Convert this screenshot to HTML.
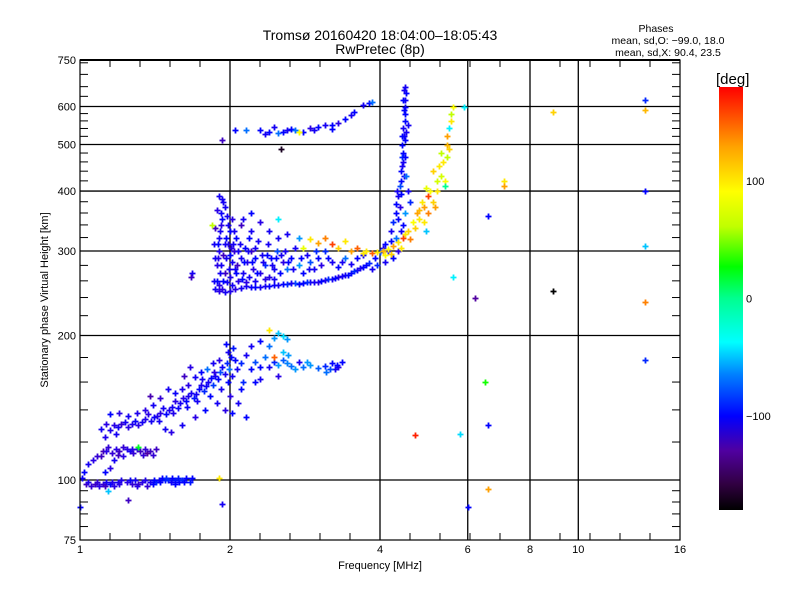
<!DOCTYPE html>
<html><head><meta charset="utf-8">
<style>
body{margin:0;background:#fff;}
svg{display:block;font-family:"Liberation Sans",sans-serif;}
</style></head>
<body>
<svg id="chart" width="800" height="600" viewBox="0 0 800 600">
<defs>
<linearGradient id="cbar" x1="0" y1="0" x2="0" y2="1">
<stop offset="0" stop-color="#ff0000"/><stop offset="0.139" stop-color="#ffa000"/><stop offset="0.247" stop-color="#ffff00"/>
<stop offset="0.33" stop-color="#c0ff00"/><stop offset="0.425" stop-color="#00ff00"/><stop offset="0.5" stop-color="#00ff90"/>
<stop offset="0.603" stop-color="#00ffff"/><stop offset="0.68" stop-color="#0080ff"/><stop offset="0.778" stop-color="#0000ff"/>
<stop offset="0.86" stop-color="#5000a0"/><stop offset="0.94" stop-color="#300040"/><stop offset="1" stop-color="#000000"/>
</linearGradient>
</defs>
<text x="380" y="40" font-size="14" text-anchor="middle">Tromsø 20160420 18:04:00–18:05:43</text>
<text x="380" y="54" font-size="14" text-anchor="middle">RwPretec (8p)</text>
<g font-size="10.5" text-anchor="middle">
<text x="656" y="32">Phases</text>
<text x="668" y="44">mean, sd,O: −99.0, 18.0</text>
<text x="668" y="56">mean, sd,X:  90.4, 23.5</text>
</g>
<g id="grid"></g>
<g id="ticks"></g>
<g id="points"></g>
<rect x="80" y="60" width="600" height="480" fill="none" stroke="#000" stroke-width="1.2"/>
<line x1="80" y1="60" x2="680" y2="60" stroke="#000" stroke-width="2"/>
<text x="380" y="569" font-size="11" text-anchor="middle">Frequency [MHz]</text>
<text transform="translate(48,300) rotate(-90)" font-size="11" text-anchor="middle">Stationary phase Virtual Height [km]</text>
<rect x="719" y="87" width="24" height="423" fill="url(#cbar)"/>
<text x="716" y="84" font-size="15">[deg]</text>
<g id="cbticks" font-size="11"></g>
</svg>
<script>
const xTicks=[1,2,4,6,8,10,16];
const yTicks=[75,100,200,300,400,500,600,750];
const xGrid=[2,4,6,8,10];
const yGrid=[100,200,300,400,500,600];
const yMinor=[80,85,90,95,120,140,160,180,220,240,260,280,320,340,360,380,420,440,460,480,520,540,560,580,630,660,700,740];
const cbTicks=[100,0,-100];
// [freq MHz, height km, phase deg]
const trace100=[[1.01,101,-105],[1.03,98,-130],[1.05,97,-125],[1.07,98,-130],[1.09,97,-120],[1.11,98,-125],[1.13,99,-110],[1.15,98,-100],[1.17,97,-120],[1.19,99,-110],[1.21,100,-115],[1.24,99,-120],[1.27,98,-125],[1.29,100,-110],[1.31,98,-130],[1.33,99,-120],[1.36,97,-125],[1.38,99,-110],[1.40,98,-100],[1.42,99,-90],[1.44,100,-105],[1.46,101,-100],[1.48,100,-95],[1.50,100,-90],[1.53,101,-100],[1.55,100,-95],[1.58,99,-100],[1.60,100,-90],[1.63,101,-100],[1.66,99,-95],[1.68,101,-100],[1.14,95,-50],[1.25,91,-130],[1.04,99,-115],[1.12,97,-130],[1.20,98,-120],[1.26,100,-105],[1.35,100,-115],[1.45,99,-100],[1.52,99,-105],[1.57,101,-95],[1.62,99,-100],[1.00,88,-100],[1.08,99,-125],[1.16,99,-115],[1.30,97,-120],[1.41,100,-100],[1.49,101,-90],[1.55,98,-100]];
const traceE1=[[1.04,108,-110],[1.06,110,-120],[1.08,112,-125],[1.10,112,-130],[1.11,115,-135],[1.13,115,-120],[1.16,114,-125],[1.18,116,-120],[1.20,115,-130],[1.22,117,-125],[1.24,116,-120],[1.26,115,-110],[1.28,114,-125],[1.30,116,-120],[1.32,115,-130],[1.34,113,-125],[1.36,114,-140],[1.38,115,-130],[1.40,113,-125],[1.42,116,-130],[1.22,112,-120],[1.17,110,-110],[1.15,106,-120],[1.12,104,-100],[1.02,104,-100],[1.31,117,20],[1.14,117,-125],[1.19,113,-130],[1.27,116,-120],[1.35,116,-125]];
const traceE2=[[1.10,128,-110],[1.13,131,-120],[1.15,127,-115],[1.17,130,-120],[1.19,129,-110],[1.21,131,-125],[1.23,132,-110],[1.25,129,-120],[1.27,131,-115],[1.29,133,-105],[1.31,130,-120],[1.33,132,-110],[1.35,134,-115],[1.37,137,-120],[1.39,133,-110],[1.41,135,-105],[1.43,136,-115],[1.45,138,-120],[1.47,141,-110],[1.49,137,-100],[1.51,140,-115],[1.53,142,-110],[1.55,146,-120],[1.57,141,-105],[1.59,145,-110],[1.61,148,-120],[1.63,146,-100],[1.65,150,-115],[1.67,152,-110],[1.69,148,-95],[1.71,151,-110],[1.73,155,-100],[1.75,158,-115],[1.77,153,-90],[1.79,157,-105],[1.81,160,-110],[1.83,163,-100],[1.85,158,-85],[1.87,165,-110],[1.89,162,-100],[1.91,168,-80],[1.93,172,-105],[1.95,166,-110],[1.97,175,-90],[1.99,170,-70],[2.01,180,-100],[2.02,165,-110],[2.00,150,-120],[2.03,188,-95],[1.98,185,-110],[1.96,192,-100],[1.90,178,-120],[1.85,175,-110],[1.80,170,-70],[1.75,168,-100],[1.70,164,-110],[1.65,158,-120],[1.60,155,-115],[1.55,152,-105],[1.50,155,-110],[1.45,148,-125],[1.40,143,-110],[1.35,140,-120],[1.30,138,-115],[1.25,136,-110],[1.20,138,-120],[1.15,137,-100],[1.48,128,-110],[1.52,126,-120],[1.60,130,-110],[1.70,135,-120],[1.78,140,-100],[1.88,145,-110],[1.95,140,-120],[2.02,138,-100],[2.08,145,-110],[2.10,155,-100],[2.12,160,-90],[2.07,170,-110],[2.15,135,-100],[1.62,165,-130],[1.66,172,-120],[1.38,150,-135],[1.12,123,-115],[1.18,125,-110],[1.44,133,-110],[1.54,138,-115],[1.64,142,-105],[1.72,146,-110],[1.82,150,-100],[1.92,155,-110],[1.98,160,-100],[1.86,168,-120],[1.76,162,-110]];
const traceEs=[[2.05,178,-100],[2.10,175,-90],[2.15,182,-110],[2.20,170,-100],[2.25,176,-80],[2.30,172,-100],[2.35,180,-70],[2.40,172,-110],[2.45,176,-90],[2.50,174,-60],[2.55,178,-75],[2.60,175,-65],[2.65,173,-70],[2.70,170,-60],[2.75,176,-110],[2.80,172,-70],[2.90,174,-60],[3.00,171,-75],[3.10,173,-90],[3.20,175,-100],[3.25,170,-110],[3.30,172,-120],[3.35,176,-100],[3.12,168,-70],[2.62,182,-60],[2.55,185,-50],[2.40,190,-70],[2.45,198,-60],[2.50,202,-50],[2.55,200,-45],[2.60,197,-60],[2.40,205,100],[2.30,195,-100],[2.20,190,-110],[2.25,160,-100],[2.30,162,-110],[2.50,165,-120],[2.45,180,150],[3.28,174,-100],[3.18,170,-80],[2.85,176,-60]];
const traceO=[[1.87,250,-110],[1.90,248,-120],[1.95,247,-110],[2.00,248,-115],[2.05,250,-120],[2.10,251,-110],[2.20,252,-105],[2.30,253,-110],[2.40,254,-100],[2.50,255,-110],[2.60,256,-90],[2.70,257,-80],[2.80,257,-100],[2.90,258,-110],[3.00,259,-120],[3.10,261,-115],[3.20,262,-110],[3.30,265,-120],[3.40,267,-110],[3.50,270,-100],[3.60,274,-110],[3.70,278,-100],[3.80,283,-90],[3.90,290,-100],[4.00,298,-80],[4.10,310,-100],[4.20,330,-110],[4.30,360,-100],[4.35,390,-110],[4.40,420,-100],[4.42,450,-110],[4.45,480,-100],[4.47,520,-110],[4.48,560,-100],[4.50,600,-105],[4.52,640,-100],[4.50,660,-110],[4.25,345,-90],[4.30,375,-100],[4.32,400,-110],[4.38,410,-80],[4.40,440,-100],[4.45,460,-110],[4.42,500,-100],[4.45,540,-110],[4.50,580,-100],[4.48,620,-110],[4.30,320,-70],[4.35,350,-100],[4.15,300,-110],[4.20,315,-100],[4.38,370,-120],[4.46,430,-110],[4.42,470,-90],[4.50,510,-100],[4.55,550,-110],[4.47,590,-100],[4.52,430,-70],[4.55,400,-110],[4.60,380,-90],[4.50,360,-60],[4.45,340,-100],[4.40,330,-110],[4.35,300,-120],[4.25,290,-100],[4.10,285,-110],[3.95,280,-90],[3.85,275,-110],[4.45,620,-100],[4.47,650,-110],[2.15,254,-110],[2.25,252,-100],[2.35,254,-110],[2.45,255,-105],[2.55,256,-100],[2.65,257,-110],[2.75,256,-100],[2.85,258,-90],[2.95,259,-110],[3.05,260,-100],[3.15,262,-90],[3.25,264,-100],[3.35,266,-110],[3.45,268,-100],[3.55,272,-90],[3.65,276,-110],[3.75,281,-100],[4.05,304,-110],[4.40,395,-100],[4.43,520,-100],[4.50,470,-100],[4.52,530,-110]];
const spreadF=[[1.86,260,-110],[1.88,280,-120],[1.90,300,-115],[1.90,320,-110],[1.92,340,-120],[1.92,360,-105],[1.94,380,-110],[1.95,270,-130],[1.96,290,-110],[1.98,310,-120],[2.00,330,-100],[2.00,265,-115],[2.02,350,-120],[2.02,285,-110],[2.04,300,-125],[2.05,275,-110],[2.06,320,-100],[2.08,260,-120],[2.10,290,-110],[2.10,340,-130],[2.12,270,-110],[2.14,305,-100],[2.16,285,-120],[2.18,265,-110],[2.20,300,-130],[2.20,330,-110],[2.22,275,-120],[2.25,290,-100],[2.28,315,-110],[2.30,270,-120],[2.32,295,-110],[2.35,280,-90],[2.38,310,-110],[2.40,265,-120],[2.42,290,-100],[2.45,275,-110],[2.48,300,-80],[2.50,320,-110],[2.52,270,-100],[2.55,285,-120],[2.58,300,-110],[2.60,275,-70],[2.65,290,-100],[2.70,305,-110],[2.75,280,-60],[2.80,270,-100],[2.85,295,-110],[2.90,285,-80],[2.95,275,-110],[3.00,290,-100],[3.05,280,-120],[3.10,300,-90],[3.20,285,-110],[3.30,278,-100],[3.40,290,-70],[3.50,282,-110],[3.60,290,-100],[3.70,295,-110],[1.93,385,-110],[1.88,365,-120],[1.97,355,-110],[1.87,335,-130],[1.95,310,-110],[1.89,290,-120],[2.03,310,-110],[2.07,280,-130],[1.90,255,-120],[1.97,258,-110],[2.15,258,-120],[2.25,260,-110],[2.35,262,-120],[2.45,262,-110],[1.68,270,-110],[1.67,265,-130],[2.12,350,-110],[2.30,345,-120],[2.40,330,-110],[2.50,350,-40],[2.20,360,-100],[2.60,325,-110],[2.75,320,-60],[1.91,270,-110],[1.94,295,-130],[1.99,275,-110],[2.01,305,-120],[1.86,310,-110],[1.93,250,-120],[2.08,300,-110],[2.18,320,-100],[1.84,340,60],[1.87,290,-110],[1.89,310,-100],[1.91,330,-110],[1.93,350,-100],[1.95,370,-110],[1.88,260,-100],[1.92,280,-110],[1.96,320,-100],[1.98,340,-110],[2.00,295,-100],[2.04,330,-110],[2.06,270,-100],[2.09,310,-110],[2.13,285,-100],[2.17,300,-110],[2.21,285,-100],[2.24,305,-110],[2.27,270,-100],[2.33,285,-110],[2.37,295,-100],[2.43,280,-110],[2.47,290,-100],[2.53,295,-110],[2.62,285,-100],[2.68,275,-110],[2.78,290,-100],[2.88,275,-110],[2.98,300,-90],[3.15,290,-100],[3.35,285,-110],[1.90,390,-110],[1.94,260,-100],[2.02,255,-110],[2.11,262,-100]];
const traceX=[[3.30,305,110],[3.50,300,130],[3.70,297,100],[3.85,297,150],[3.95,298,100],[4.05,300,120],[4.15,303,90],[4.25,307,130],[4.35,313,100],[4.45,320,160],[4.55,330,110],[4.65,345,90],[4.75,360,130],[4.85,380,100],[4.95,405,80],[5.10,440,110],[5.30,480,60],[5.45,520,130],[5.55,560,100],[5.60,600,90],[4.40,305,100],[4.60,318,140],[4.70,335,110],[4.80,350,100],[4.90,370,130],[5.00,390,160],[5.20,420,70],[5.35,460,100],[5.45,500,120],[5.00,360,140],[5.10,380,110],[5.20,400,100],[5.30,430,70],[5.40,420,90],[5.45,470,60],[5.15,370,130],[4.90,345,100],[3.20,310,160],[3.00,312,130],[2.80,305,80],[2.90,318,100],[3.10,320,140],[3.40,315,100],[3.60,305,150],[3.75,300,100],[4.20,296,110],[4.10,294,90],[5.50,540,-40],[5.55,580,60],[4.95,330,-50],[5.40,410,0],[4.50,325,100],[4.80,365,120],[5.05,400,90],[5.25,450,100],[5.50,490,110]];
const trace500=[[2.05,535,-100],[2.15,537,-70],[2.30,535,-100],[2.35,525,-110],[2.40,530,-100],[2.45,545,-110],[2.50,528,-70],[2.55,532,-100],[2.60,535,-110],[2.65,538,-100],[2.70,535,-70],[2.80,532,-100],[2.90,540,-120],[3.00,545,-100],[3.10,548,-110],[3.20,550,-100],[3.30,555,-120],[3.40,565,-100],[3.50,575,-110],[3.55,585,-100],[3.70,605,-110],[3.80,610,-100],[3.85,612,-70],[3.20,538,-100],[2.95,535,-110],[2.75,530,90],[1.93,511,-130],[2.53,490,-170]];
const isolated=[[13.6,620,-90],[13.6,590,120],[13.6,400,-100],[13.6,308,-50],[13.6,235,140],[13.6,178,-90],[8.9,585,110],[8.9,248,-180],[6.6,355,-100],[7.1,420,100],[7.1,410,130],[6.2,240,-140],[6.5,160,30],[6.6,130,-100],[5.8,125,-45],[4.7,124,170],[6.6,96,130],[6.0,88,-100],[1.93,89,-110],[1.90,101,100],[5.9,600,-40],[5.6,265,-40]];
const groups=[trace100,traceE1,traceE2,traceEs,traceO,spreadF,traceX,trace500,isolated];

const NS='http://www.w3.org/2000/svg';
const X0=80,PX_OCT=150,Y0=540,PX_DEC=480;
function xs(f){return X0+PX_OCT*Math.log2(f);}
function ys(h){return Y0-PX_DEC*Math.log10(h/75);}
const stops=[[180,[255,0,0]],[130,[255,160,0]],[91,[255,255,0]],[60,[192,255,0]],[27,[0,255,0]],[0,[0,255,144]],[-37,[0,255,255]],[-65,[0,128,255]],[-100,[0,0,255]],[-120,[40,0,230]],[-140,[80,0,160]],[-160,[48,0,64]],[-180,[0,0,0]]];
function pcol(p){
  for(let i=0;i<stops.length-1;i++){
    const a=stops[i],b=stops[i+1];
    if(p<=a[0]&&p>=b[0]){const t=(a[0]-p)/(a[0]-b[0]);
      const c=a[1].map((v,k)=>Math.round(v+(b[1][k]-v)*t));return 'rgb('+c.join(',')+')';}
  }
  return p>180?'rgb(255,0,0)':'rgb(0,0,0)';
}
function mk(tag,attrs,parent){const e=document.createElementNS(NS,tag);for(const k in attrs)e.setAttribute(k,attrs[k]);parent.appendChild(e);return e;}
const grid=document.getElementById('grid'),ticks=document.getElementById('ticks'),pts=document.getElementById('points'),cbt=document.getElementById('cbticks');
xGrid.forEach(f=>{const l=mk('line',{x1:xs(f),x2:xs(f),y1:60,y2:540,stroke:'#000','stroke-width':1.3},grid);

});
yGrid.forEach(h=>{const l=mk('line',{x1:80,x2:680,y1:ys(h),y2:ys(h),stroke:'#000','stroke-width':1.3},grid);

});
for(let x=110;x<680;x+=30){
  mk('line',{x1:x,x2:x,y1:540,y2:533,stroke:'#000'},ticks);
  mk('line',{x1:x,x2:x,y1:60,y2:67,stroke:'#000'},ticks);
}
yMinor.forEach(h=>{const y=ys(h);
  mk('line',{x1:80,x2:88,y1:y,y2:y,stroke:'#000'},ticks);
  mk('line',{x1:672,x2:680,y1:y,y2:y,stroke:'#000'},ticks);});
yTicks.forEach(h=>{const t=mk('text',{x:76,y:ys(h)+4,'font-size':11,'text-anchor':'end'},ticks);t.textContent=h;

});
xTicks.forEach(f=>{const t=mk('text',{x:xs(f),y:553,'font-size':11,'text-anchor':'middle'},ticks);t.textContent=f;

});
cbTicks.forEach(p=>{const y=510-(p+180)/360*423;const t=mk('text',{x:746,y:y+4},cbt);t.textContent=p===-100?'−100':p;

});
groups.forEach(g=>g.forEach(d=>{
  const x=Math.round(xs(d[0]))+0.5,y=Math.round(ys(d[1]))+0.5,c=pcol(d[2]);
  const p=mk('path',{d:`M${x-3},${y}h6M${x},${y-3}v6`,stroke:c,'stroke-width':1.8,fill:'none'},pts);
  
  
}));
</script>
</body></html>
